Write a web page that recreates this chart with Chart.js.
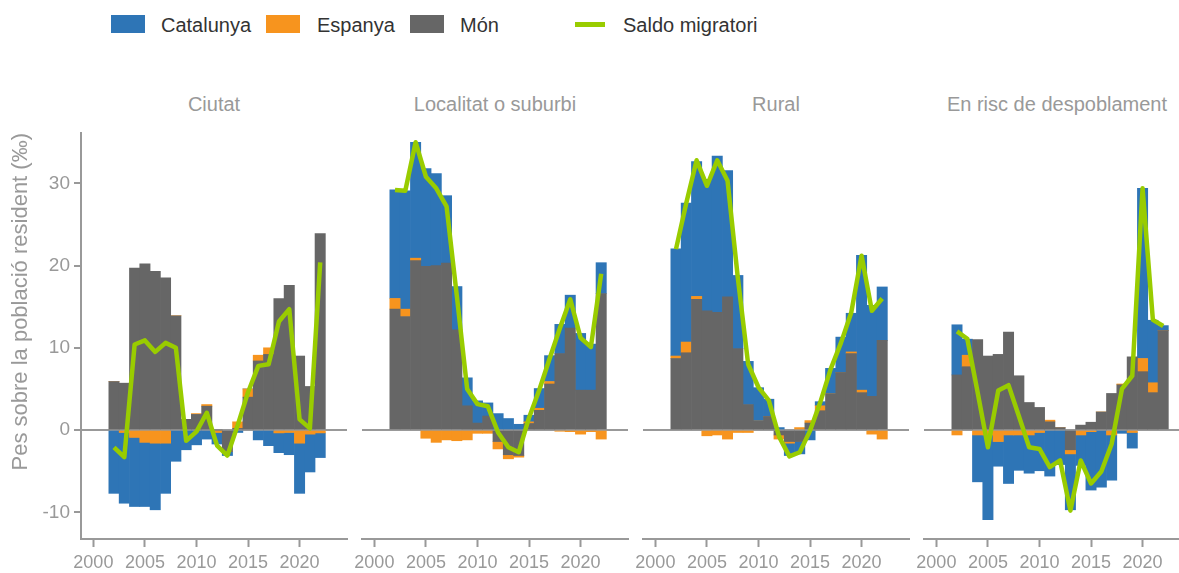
<!DOCTYPE html>
<html>

<head>
  <title>Saldo migratori per tipus de municipi</title>
  <meta charset="UTF-8">
  <script src="https://cdn.jsdelivr.net/npm/chart.js@4.4.0/dist/chart.umd.min.js"></script>
  <style>
    body { margin: 0; width: 1179px; height: 573px; overflow: hidden; background: #fff; position: relative;
           font-family: "Liberation Sans", Arial, sans-serif; }
    canvas { position: absolute; top: 0; }
    .key { position: absolute; top: 15px; width: 34px; height: 18px; }
    .lbl { position: absolute; top: 15px; font-size: 20px; line-height: 20px; color: #333; white-space: nowrap; }
    .strip { position: absolute; top: 94px; width: 266px; text-align: center; font-size: 20px; line-height: 20px;
             color: #999; white-space: nowrap; }
  </style>
</head>

<body>
  <div class="key" style="left:111px;background:#2E75B6"></div>
  <div class="lbl" style="left:161px">Catalunya</div>
  <div class="key" style="left:266px;background:#F7941E"></div>
  <div class="lbl" style="left:317px">Espanya</div>
  <div class="key" style="left:410px;background:#666666"></div>
  <div class="lbl" style="left:460px">Món</div>
  <div class="key" style="left:575px;top:22px;width:30px;height:5px;background:#99CC00"></div>
  <div class="lbl" style="left:623px">Saldo migratori</div>

  <script>
    // years and axis ticks
    var years = [2002, 2003, 2004, 2005, 2006, 2007, 2008, 2009, 2010, 2011, 2012,
                 2013, 2014, 2015, 2016, 2017, 2018, 2019, 2020, 2021, 2022];
    var xTicks = [2000, 2005, 2010, 2015, 2020];
    var yTicks = [-10, 0, 10, 20, 30];
    var panelTitles = ["Ciutat", "Localitat o suburbi", "Rural", "En risc de despoblament"];

    // Ciutat
    var ciutatMon = [5.9, 5.7, 19.7, 20.2, 19.3, 18.5, 13.9, 1.3, 1.9, 2.9, 0, -2.6, 0.2, 4.0, 8.4, 9.2, 16.0, 17.6, 9.0, 5.3, 23.9];
    var ciutatEsp = [0, -0.3, -0.9, -1.5, -1.6, -1.6, 0, 0, 0.1, 0.2, -0.3, 0, 0.8, 1.0, 0.7, 0.8, -0.35, -0.3, -1.6, -0.5, -0.35];
    var ciutatCat = [-7.7, -8.6, -8.4, -7.8, -8.1, -6.1, -3.8, -2.4, -1.8, -1.1, -1.4, -0.5, -0.3, 0, -1.2, -1.9, -2.4, -2.7, -6.1, -4.6, -3.0];
    var ciutatSaldo = [-2.1, -3.3, 10.4, 10.9, 9.5, 10.6, 10.0, -1.3, -0.2, 2.1, -1.9, -3.1, 0.6, 4.6, 7.8, 8.0, 13.2, 14.7, 1.3, 0.2, 20.4];

    // Localitat o suburbi
    var localMon = [14.7, 13.8, 20.6, 19.9, 20.0, 20.3, 12.2, 2.95, 0.85, 1.7, -1.4, -3.0, -3.1, 0.8, 2.4, 5.6, 9.3, 12.4, 4.85, 4.85, 16.6];
    var localEsp = [1.3, 0.9, 0.3, -1.0, -1.5, -1.2, -1.3, -1.2, -0.4, -0.4, -0.9, -0.5, -0.2, 0.2, 0.25, 0.3, -0.15, -0.2, -0.5, -0.2, -1.1];
    var localCat = [13.2, 14.4, 14.1, 11.9, 11.2, 8.2, 5.25, 3.4, 2.7, 1.6, 2.0, 1.4, 0.7, 0.8, 2.4, 3.15, 3.55, 4.0, 6.9, 5.6, 3.75];
    var localSaldo = [29.2, 29.1, 35.0, 30.8, 29.4, 27.2, 16.3, 5.0, 3.15, 2.9, -0.3, -2.1, -2.7, 1.5, 4.9, 8.7, 12.4, 15.9, 11.2, 10.1, 19.0];

    // Rural
    var ruralMon = [8.7, 9.4, 15.9, 14.5, 14.3, 16.2, 9.9, 3.1, 1.1, 1.65, -0.6, -1.4, -1.4, 0.85, 2.35, 4.4, 7.0, 9.3, 4.55, 4.1, 10.9];
    var ruralEsp = [0.3, 1.3, 0.35, -0.7, -0.6, -1.1, -0.3, -0.3, 0, 0, -0.5, -0.2, 0.3, 0.3, 0.6, 0, 0, 0.2, 0.3, -0.5, -1.1];
    var ruralCat = [13.05, 16.9, 16.4, 16.0, 19.0, 15.35, 8.9, 5.25, 4.05, 2.1, 0.3, -1.5, -1.5, -1.2, 0.5, 3.1, 4.3, 4.7, 16.4, 11.05, 6.5];
    var ruralSaldo = [22.0, 27.6, 32.8, 29.7, 32.8, 30.3, 18.5, 8.0, 5.2, 3.6, -0.8, -3.2, -2.7, -0.1, 3.4, 7.4, 10.6, 14.3, 21.2, 14.5, 16.0];

    // En risc de despoblament
    var riscMon = [6.7, 7.7, 11.0, 9.0, 9.2, 11.9, 6.6, 3.35, 2.75, 1.0, 0.3, -2.4, 0.6, 0.95, 2.2, 4.45, 5.5, 8.9, 7.1, 4.55, 12.1];
    var riscEsp = [-0.6, 1.4, -0.6, -0.6, -1.4, -0.6, -0.6, -0.6, -0.3, 0.2, 0, -0.5, -0.6, -0.2, 0, -0.6, 0.1, -0.3, 1.6, 1.2, 0];
    var riscCat = [6.1, 1.95, -5.7, -10.3, -3.0, -5.9, -4.3, -4.65, -4.65, -5.6, -4.2, -6.8, -3.7, -7.1, -6.95, -5.5, -0.4, -1.9, 20.7, 7.6, 0.6];
    var riscSaldo = [12.0, 11.1, 4.6, -2.1, 4.8, 5.45, 1.7, -2.1, -2.3, -4.5, -3.7, -9.8, -3.7, -6.5, -5.05, -1.7, 5.0, 6.6, 29.4, 13.4, 12.65];

    var facets = [
      { mon: ciutatMon, esp: ciutatEsp, cat: ciutatCat, saldo: ciutatSaldo },
      { mon: localMon, esp: localEsp, cat: localCat, saldo: localSaldo },
      { mon: ruralMon, esp: ruralEsp, cat: ruralCat, saldo: ruralSaldo },
      { mon: riscMon, esp: riscEsp, cat: riscCat, saldo: riscSaldo }
    ];

    Chart.defaults.font.family = '"Liberation Sans", Arial, sans-serif';
    Chart.defaults.color = "#999";

    var panelLeft = [81, 362, 643, 924];
    var panelWidth = 266;
    var yMin = -13.25, yMax = 36.12;

    function pts(values) {
      return years.map(function (yr, i) { return { x: yr, y: values[i] }; });
    }

    function bar(label, values, color) {
      return {
        type: "bar", label: label, data: pts(values), backgroundColor: color,
        borderWidth: 0, barPercentage: 1, categoryPercentage: 1, order: 1
      };
    }

    for (let k = 0; k < facets.length; k++) {
      var f = facets[k];
      var first = k === 0;
      var padL = first ? 0 : 14;
      var axisW = first ? 81 : 0;

      var strip = document.createElement("div");
      strip.className = "strip";
      strip.style.left = panelLeft[k] + "px";
      strip.textContent = panelTitles[k];
      document.body.appendChild(strip);

      var canvas = document.createElement("canvas");
      canvas.width = padL + axisW + panelWidth + 14;
      canvas.height = 573;
      canvas.style.left = (panelLeft[k] - axisW - padL) + "px";
      document.body.appendChild(canvas);

      new Chart(canvas.getContext("2d"), {
        type: "bar",
        data: {
          datasets: [
            {
              type: "line", label: "Saldo migratori", data: pts(f.saldo), yAxisID: "y2",
              borderColor: "#99CC00", borderWidth: 4.5, borderJoinStyle: "round", borderCapStyle: "butt",
              pointRadius: 0, tension: 0, fill: false, order: 0
            },
            bar("Món", f.mon, "#666666"),
            bar("Espanya", f.esp, "#F7941E"),
            bar("Catalunya", f.cat, "#2E75B6")
          ]
        },
        options: {
          responsive: false,
          animation: false,
          devicePixelRatio: 1,
          events: [],
          layout: { padding: { left: padL, right: 14, top: 133, bottom: 0 } },
          plugins: { legend: { display: false }, tooltip: { enabled: false } },
          scales: {
            x: {
              type: "linear", min: 1998.8, max: 2024.6, offset: false, stacked: true,
              grid: { offset: false, drawOnChartArea: false, drawTicks: true, tickLength: 8, tickColor: "#999", tickWidth: 2 },
              border: { display: true, color: "#999", width: 2 },
              ticks: { font: { size: 18 }, color: "#999", padding: 5, maxRotation: 0, autoSkip: false,
                       callback: function (v) { return String(v); } },
              afterBuildTicks: function (s) { s.ticks = xTicks.map(function (v) { return { value: v }; }); },
              afterFit: function (s) { s.height = 34; }
            },
            y: {
              type: "linear", min: yMin, max: yMax, stacked: true, z: 1,
              grid: {
                color: function (c) { return c.tick && c.tick.value === 0 ? "#999" : "rgba(0,0,0,0)"; },
                lineWidth: 2, drawTicks: first, tickLength: 7, tickColor: "#999", tickWidth: 2
              },
              border: { display: first, color: "#999", width: 2 },
              ticks: { display: first, font: { size: 19 }, color: "#999", padding: 4,
                       callback: function (v) { return String(v); } },
              title: {
                display: first, text: "Pes sobre la població resident (‰)", align: "end",
                font: { size: 22 }, color: "#999", padding: { top: 8, bottom: 0 }
              },
              afterBuildTicks: function (s) { s.ticks = yTicks.map(function (v) { return { value: v }; }); },
              afterFit: (function (w) { return function (s) { s.width = w; }; })(axisW)
            },
            y2: { type: "linear", min: yMin, max: yMax, display: false }
          }
        }
      });
    }
  </script>
</body>

</html>
